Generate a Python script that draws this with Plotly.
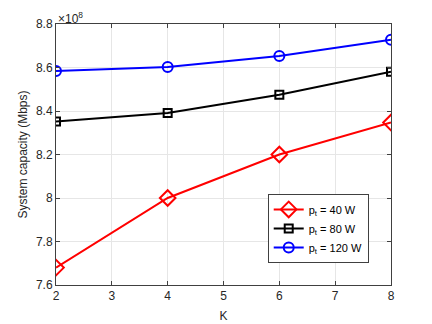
import plotly.graph_objects as go

# K values and system capacity (x 1e8 Mbps)
K = [2, 4, 6, 8]
cap_40 = [7.68, 8.00, 8.20, 8.347]
cap_80 = [8.352, 8.391, 8.475, 8.58]
cap_120 = [8.584, 8.602, 8.653, 8.728]
y_ticks = [7.6, 7.8, 8.0, 8.2, 8.4, 8.6, 8.8]
y_tick_labels = ["7.6", "7.8", "8", "8.2", "8.4", "8.6", "8.8"]

series = [
    ("p<sub>t</sub> = 40 W", cap_40, "#ff0000", "diamond-open", 12),
    ("p<sub>t</sub> = 80 W", cap_80, "#000000", "square-open", 8),
    ("p<sub>t</sub> = 120 W", cap_120, "#0000ff", "circle-open", 10),
]

fig = go.Figure()
for name, vals, color, sym, size in series:
    fig.add_trace(go.Scatter(
        x=K, y=vals, name=name, mode="lines+markers",
        line=dict(color=color, width=2),
        marker=dict(symbol=sym, size=size, color=color, line=dict(width=2, color=color)),
    ))

axis_common = dict(
    showline=True, linecolor="#404040", linewidth=1, mirror="ticks",
    ticks="inside", ticklen=4, tickcolor="#404040", automargin=False,
    showgrid=True, gridcolor="#e6e6e6", gridwidth=1, zeroline=False,
    tickfont=dict(size=12, color="#262626"),
)

fig.update_layout(
    width=432, height=324,
    margin=dict(l=56, r=41, t=24, b=39),
    paper_bgcolor="white", plot_bgcolor="white",
    font=dict(family="Liberation Sans, Arial, sans-serif", color="#262626", size=12),
    xaxis=dict(range=[2, 8], tickvals=[2, 3, 4, 5, 6, 7, 8],
               title=dict(text="K", standoff=9, font=dict(size=12)), **axis_common),
    yaxis=dict(range=[7.6, 8.8], tickvals=y_ticks, ticktext=y_tick_labels,
               title=dict(text="System capacity (Mbps)", standoff=5, font=dict(size=12)),
               **axis_common),
    legend=dict(x=0.632, y=0.349, xanchor="left", yanchor="top",
                bgcolor="white", bordercolor="#404040", borderwidth=1,
                font=dict(size=11, color="#000000"), tracegroupgap=0,
                itemwidth=30),
    showlegend=True,
)

fig.add_annotation(
    text="\u00d710<sup>8</sup>", xref="paper", yref="paper", x=0, y=1,
    xanchor="left", yanchor="bottom", showarrow=False,
    font=dict(size=12, color="#262626"), yshift=-4,
)

# drop the default page margin so the figure sits at the window origin
fig.write_html("out.html", config={"displayModeBar": False},
               post_script="document.body.style.margin='0';document.body.style.overflow='hidden';")
